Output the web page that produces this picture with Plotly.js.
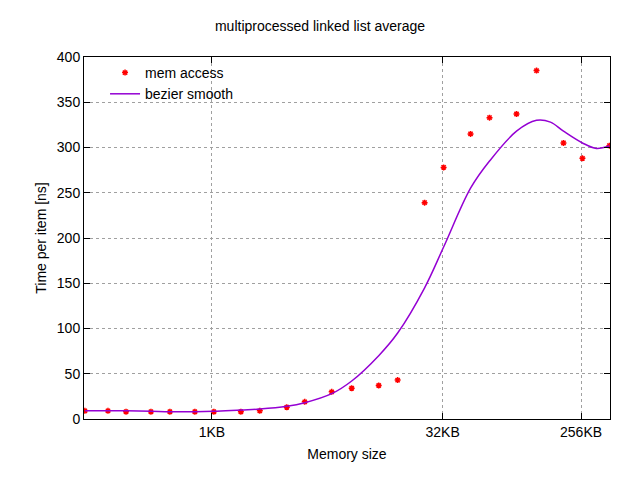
<!DOCTYPE html>
<html><head><script src="https://cdn.plot.ly/plotly-3.0.1.min.js"></script></head>
<body style="margin:0"><div id="c" style="width:640px;height:480px"></div>
<script>
const sizes=[152,215,282,410,545,793,1055,1583,2104,3155,4133,6196,8364,12549,16680,25010,33270,49870,66310,99450,134340,201400,267700,401400];
const times=[9,9,8,8,8,8,8,8,9,13,19,30,34,37,43,239,278,315,333,337,385,305,288,302];
const smoothX=[152,215,282,410,545,793,1055,1583,2104,3155,4133,6196,8364,12549,16680,25010,33270,49870,66310,99450,134340,165600,201400,267700,330000,401400];
const smoothY=[9,9,9,8.5,8,8,8.5,10,11,14,18,28,42,70,95,145,190,255,285,318,330,328,318,305,299,302];
const tickVals=[1024,32768,262144];
const tickText=['1KB','32KB','256KB'];
const ax={showline:true,linecolor:'#000',mirror:'ticks',ticks:'inside',ticklen:6,tickcolor:'#000',
  gridcolor:'#a0a0a0',griddash:'dot',zeroline:false,tickfont:{size:14}};
Plotly.newPlot('c',[
 {x:sizes,y:times,mode:'markers',name:'mem access',marker:{color:'#ff0000',symbol:'asterisk-open',size:5,line:{color:'#ff0000',width:1.5}}},
 {x:smoothX,y:smoothY,mode:'lines',name:'bezier smooth',line:{color:'#9400d3',width:1.5,shape:'spline'}}
],{
 width:640,height:480,margin:{l:84,r:30,t:57,b:61},
 font:{family:'Liberation Sans, Arial',size:14,color:'#000'},
 title:{text:'multiprocessed linked list average',x:0.5,y:0.955,font:{size:14}},
 xaxis:Object.assign({type:'log',range:[Math.log10(150),Math.log10(405000)],tickvals:tickVals,ticktext:tickText,
   title:{text:'Memory size',standoff:10,font:{size:14}}},ax),
 yaxis:Object.assign({range:[0,400],dtick:50,title:{text:'Time per item [ns]',font:{size:14}}},ax),
 legend:{x:0.04,y:1,xanchor:'left',yanchor:'top',bgcolor:'rgba(0,0,0,0)',font:{size:14}},
 plot_bgcolor:'#fff',paper_bgcolor:'#fff'
},{displayModeBar:false});
</script></body></html>
